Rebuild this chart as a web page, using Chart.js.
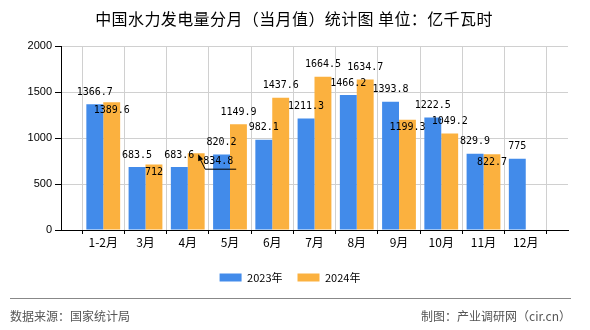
<!DOCTYPE html>
<html>
<head>
<meta charset="utf-8">
<script src="https://cdn.jsdelivr.net/npm/chart.js@4.4.1/dist/chart.umd.min.js"></script>
<style>
html,body{margin:0;padding:0;background:#fff;}
#wrap{position:relative;width:590px;height:330px;overflow:hidden;}
#title{position:absolute;left:0;top:7px;width:588px;text-align:center;font:16px "Noto Sans CJK SC";letter-spacing:0.4px;line-height:22px;color:#000;}
#rule{position:absolute;left:10px;top:298px;width:561px;border-top:1px solid #888;}
.foot{position:absolute;top:307px;font:12px "Noto Sans CJK SC";line-height:18px;color:#555;}
canvas{position:absolute;left:0;top:0;}
</style>
</head>
<body>
<div id="wrap">
  <canvas id="chart" width="590" height="330"></canvas>
  <div id="title">中国水力发电量分月（当月值）统计图 单位：亿千瓦时</div>
  <div id="rule"></div>
  <div class="foot" style="left:10px">数据来源：国家统计局</div>
  <div class="foot" style="right:19px">制图：产业调研网（cir.cn）</div>
</div>
<script>
const categories = ['1-2月','3月','4月','5月','6月','7月','8月','9月','10月','11月','12月'];
const values2023 = [1366.7, 683.5, 683.6, 820.2, 982.1, 1211.3, 1466.2, 1393.8, 1222.5, 829.9, 775];
const values2024 = [1389.6, 712, 834.8, 1149.9, 1437.6, 1664.5, 1634.7, 1199.3, 1049.2, 822.7, null];
const seriesNames = ['2023年', '2024年'];
const yTicks = [0, 500, 1000, 1500, 2000];
// where each value label sits: above the bar, inside its top, or moved aside with a pointer
const labelPlace2023 = ['top','top','top','top','top','top','top','top','top','top','top'];
const labelPlace2024 = ['in','in','lead','top','top','top','top','in','top','in','top'];

// empty slots at both ends so the categories sit on the grid lines
const labels = [''].concat(categories, ['']);
const pad = arr => [null].concat(arr, [null]);

const valueLabels = {
  id: 'valueLabels',
  afterDatasetsDraw(chart) {
    const ctx = chart.ctx;
    ctx.save();
    ctx.font = '10px "DejaVu Sans Mono"';
    ctx.fillStyle = '#000';
    ctx.strokeStyle = '#000';
    ctx.textAlign = 'center';
    ctx.textBaseline = 'middle';
    chart.data.datasets.forEach((ds, di) => {
      chart.getDatasetMeta(di).data.forEach((bar, i) => {
        const v = ds.data[i];
        if (v == null) return;
        const place = ds.labelPlace[i - 1];
        let x = bar.x, y = bar.y - 12;
        if (place === 'in') y = bar.y + 8;
        if (place === 'lead') {
          x = bar.x + 22; y = bar.y + 8;
          const tx = bar.x + 3, ty = bar.y + 4, bx = bar.x + 9, by = bar.y + 16;
          ctx.lineWidth = 1;
          ctx.beginPath();
          ctx.moveTo(tx, ty); ctx.lineTo(bx, by); ctx.lineTo(bar.x + 40, by);
          ctx.stroke();
          ctx.beginPath();
          ctx.moveTo(tx - 1, ty - 3); ctx.lineTo(tx + 4, ty + 2); ctx.lineTo(tx - 1, ty + 4);
          ctx.closePath(); ctx.fill();
        }
        ctx.fillText(String(v), x, y);
      });
    });
    ctx.restore();
  }
};

const ctx = document.getElementById('chart').getContext('2d');
new Chart(ctx, {
  type: 'bar',
  data: {
    labels,
    datasets: [
      { label: seriesNames[0], data: pad(values2023), labelPlace: labelPlace2023, backgroundColor: '#428bea' },
      { label: seriesNames[1], data: pad(values2024), labelPlace: labelPlace2024, backgroundColor: '#fbb13f' }
    ]
  },
  options: {
    responsive: false,
    animation: false,
    events: [],
    layout: { padding: { left: 12, right: 22, top: 46, bottom: 37 } },
    datasets: { bar: { categoryPercentage: 0.8, barPercentage: 1.0 } },
    scales: {
      x: {
        offset: false,
        grid: { color: '#d0d0d0', tickColor: '#000', tickLength: 4 },
        border: { color: '#000', width: 1 },
        ticks: { color: '#000', font: { family: 'Noto Sans CJK SC', size: 12 }, padding: 1, maxRotation: 0, autoSkip: false },
        afterFit: s => { s.height = 27; }
      },
      y: {
        min: 0, max: 2000,
        afterBuildTicks: s => { s.ticks = yTicks.map(v => ({ value: v })); },
        grid: { color: '#d0d0d0', tickColor: '#000', tickLength: 6 },
        border: { color: '#000', width: 1 },
        ticks: { color: '#000', font: { family: 'Liberation Sans', size: 11 }, padding: 3, callback: v => String(v) },
        afterFit: s => { s.width = 49; }
      }
    },
    plugins: {
      legend: {
        position: 'bottom',
        labels: { boxWidth: 22, boxHeight: 8, padding: 15, color: '#000', font: { family: 'Noto Sans CJK SC', size: 11 } }
      },
      tooltip: { enabled: false }
    }
  },
  plugins: [valueLabels]
});
</script>
</body>
</html>
